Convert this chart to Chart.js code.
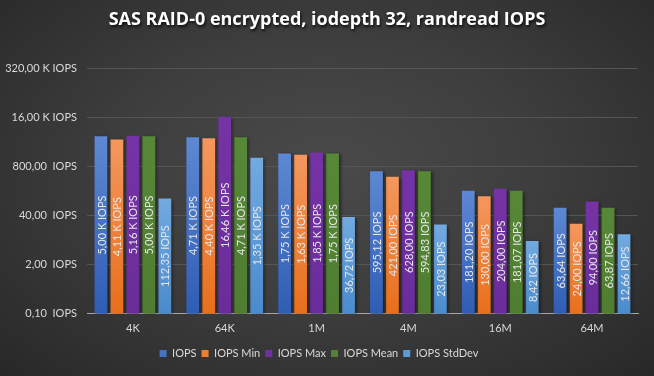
<!DOCTYPE html>
<html><head><meta charset="utf-8">
<script src="https://cdn.jsdelivr.net/npm/chart.js@4/dist/chart.umd.min.js"></script>
<style>
html,body{margin:0;padding:0;}
body{width:654px;height:376px;background:radial-gradient(ellipse at 50% 45%, #4a4a4a 0%, #3e3e3e 45%, #282828 100%);overflow:hidden;}
#wrap{width:654px;height:376px;position:relative;}
</style></head>
<body><div id="wrap"><canvas id="c" width="654" height="376"></canvas></div>
<script>
const chartTitle = 'SAS RAID-0 encrypted, iodepth 32, randread IOPS';
const categories = ['4K','64K','1M','4M','16M','64M'];
const seriesNames = ['IOPS','IOPS Min','IOPS Max','IOPS Mean','IOPS StdDev'];
const iops       = [5000, 4710, 1750, 595.12, 181.20, 63.64];
const iopsMin    = [4110, 4400, 1630, 421.00, 130.00, 24.00];
const iopsMax    = [5160, 16460, 1850, 628.00, 204.00, 94.00];
const iopsMean   = [5000, 4710, 1750, 594.83, 181.07, 63.87];
const iopsStdDev = [112.35, 1350, 36.72, 23.03, 8.42, 12.66];
const yTicks     = [0.1, 2, 40, 800, 16000, 320000];

const seriesData = [iops, iopsMin, iopsMax, iopsMean, iopsStdDev];
const baseColors = ['#4472c4','#ed7d31','#7030a0','#548235','#5b9bd5'];
const topColors  = ['#5d88d3','#f4975e','#7633a6','#578838','#72aae0'];
const botColors  = ['#2f5db4','#e86f1c','#6a2c9b','#4f7d31','#4a8bcd'];

function fmt(v, sp){
  if (v >= 1000) return (v/1000).toFixed(2).replace('.', ',') + ' K IOPS';
  return v.toFixed(2).replace('.', ',') + sp + 'IOPS';
}

function grad(i){
  return function(c){
    const chart = c.chart;
    if (!chart.chartArea || c.type !== 'data') return baseColors[i];
    const y = chart.scales.y;
    const top = y.getPixelForValue(c.raw);
    const bottom = chart.chartArea.bottom;
    const g = chart.ctx.createLinearGradient(0, top, 0, bottom);
    g.addColorStop(0, topColors[i]);
    g.addColorStop(1, botColors[i]);
    return g;
  };
}

const shadowPlugin = {
  id: 'barShadow',
  beforeDatasetsDraw(chart){
    const ctx = chart.ctx;
    ctx.save();
    ctx.shadowColor = 'rgba(0,0,0,0.45)';
    ctx.shadowBlur = 3;
    ctx.shadowOffsetX = 2;
    ctx.shadowOffsetY = 1;
  },
  afterDatasetsDraw(chart){
    chart.ctx.restore();
  }
};

const labelPlugin = {
  id: 'barLabels',
  afterDatasetsDraw(chart){
    const ctx = chart.ctx;
    ctx.save();
    ctx.font = '11px Lato, "Open Sans", sans-serif';
    ctx.fillStyle = '#e6e6e6';
    ctx.textAlign = 'center';
    ctx.textBaseline = 'middle';
    chart.data.datasets.forEach((ds, di) => {
      const meta = chart.getDatasetMeta(di);
      meta.data.forEach((bar, j) => {
        const v = ds.data[j];
        const p = bar.getProps(['x','y','base'], true);
        const cy = (p.y + p.base) / 2;
        ctx.save();
        ctx.translate(p.x, cy);
        ctx.rotate(-Math.PI/2);
        ctx.fillText(fmt(v, ' '), 0, 1);
        ctx.restore();
      });
    });
    ctx.restore();
  }
};

const titlePlugin = {
  id: 'shadowTitle',
  afterDraw(chart){
    const ctx = chart.ctx;
    ctx.save();
    ctx.font = 'bold 18px "Open Sans", Lato, sans-serif';
    ctx.textAlign = 'center';
    ctx.textBaseline = 'middle';
    ctx.shadowColor = 'rgba(0,0,0,0.8)';
    ctx.shadowBlur = 3;
    ctx.shadowOffsetX = 1;
    ctx.shadowOffsetY = 2;
    ctx.fillStyle = '#ffffff';
    ctx.fillText(chartTitle, 327, 20);
    ctx.restore();
  }
};

new Chart(document.getElementById('c'), {
  type: 'bar',
  data: {
    labels: categories,
    datasets: seriesNames.map((n, i) => ({
      label: n,
      data: seriesData[i],
      backgroundColor: grad(i),
      borderWidth: 0,
      barPercentage: 0.8,
      categoryPercentage: 0.87
    }))
  },
  options: {
    responsive: false,
    animation: false,
    devicePixelRatio: 1,
    layout: { padding: { left: 0, right: 16, top: 68, bottom: 7 } },
    plugins: {
      title: { display: false },
      legend: {
        position: 'bottom',
        labels: {
          color: '#d9d9d9',
          font: { family: 'Lato, "Open Sans", sans-serif', size: 11 },
          boxWidth: 7, boxHeight: 7,
          padding: 5,
          generateLabels(chart){
            return chart.data.datasets.map((d, i) => ({
              text: d.label, fillStyle: baseColors[i], strokeStyle: baseColors[i],
              lineWidth: 0, hidden: false, datasetIndex: i, fontColor: '#d9d9d9'
            }));
          }
        }
      },
      tooltip: { enabled: false }
    },
    scales: {
      x: {
        grid: { display: false, drawTicks: false },
        border: { color: '#a6a6a6', width: 1 },
        ticks: { color: '#d9d9d9', font: { family: 'Lato, "Open Sans", sans-serif', size: 11 }, padding: 8 }
      },
      y: {
        type: 'logarithmic',
        min: 0.1, max: 320000,
        afterBuildTicks(scale){ scale.ticks = yTicks.map(v => ({ value: v })); },
        afterFit(scale){ scale.width = 87; },
        grid: { color: '#555555', drawTicks: false, lineWidth: 1 },
        border: { display: false },
        ticks: {
          color: '#d9d9d9',
          font: { family: 'Lato, "Open Sans", sans-serif', size: 11 },
          padding: 10,
          autoSkip: false,
          callback: (v) => fmt(v, '  ')
        }
      }
    }
  },
  plugins: [shadowPlugin, labelPlugin, titlePlugin]
});
</script></body></html>
